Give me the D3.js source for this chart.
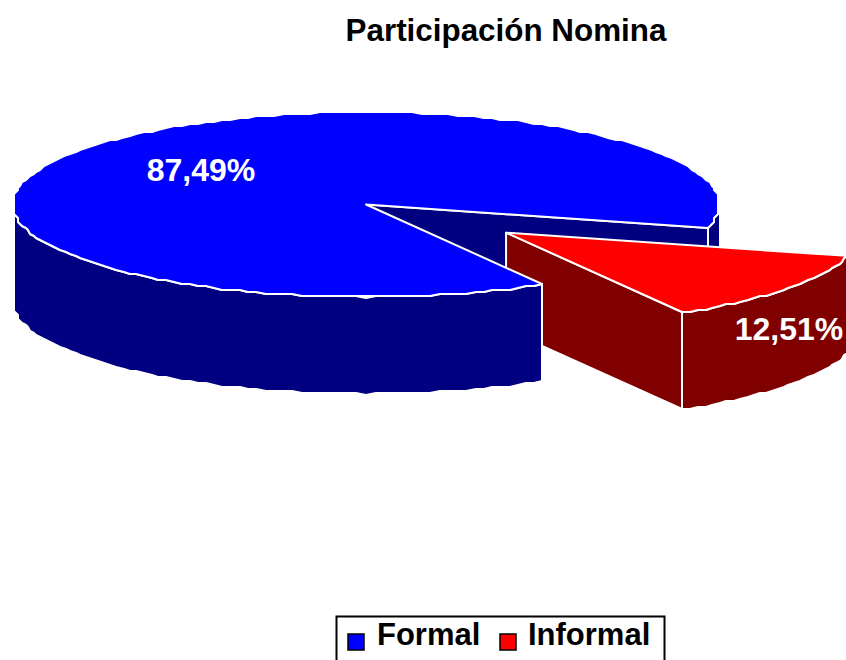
<!DOCTYPE html>
<html><head><meta charset="utf-8">
<script src="https://cdnjs.cloudflare.com/ajax/libs/d3/7.8.5/d3.min.js"></script>
<style>html,body{margin:0;padding:0;background:#fff;overflow:hidden}svg{display:block}text{font-family:"Liberation Sans",Arial,sans-serif;font-weight:700}</style>
</head><body><svg id="c" width="846" height="660"></svg>
<script>
const categories = ["Formal", "Informal"];
const values = [87.49, 12.51];
const labels = ["87,49%", "12,51%"];
const topColors = ["#0000ff", "#ff0000"];
const sideColors = ["#000080", "#800000"];
const title = "Participación Nomina";

const svg = d3.select("#c");
const X = d3.scaleLinear().domain([-1, 1]).range([13, 719]);
const Y = d3.scaleLinear().domain([-1, 1]).range([112, 297]);
const depth = 97;
const explode = [0, 0.5];
const rad = Math.PI / 180;

const pie = d3.pie().sort(null).startAngle(60 * rad).endAngle(420 * rad);
const arcs = pie(values);

const snap = v => Math.round(v / 2) * 2;
function offset(i, a) {
  const mid = (a.startAngle + a.endAngle) / 2, e = explode[i];
  return [e * Math.cos(mid), e * Math.sin(mid)];
}
function P(off, t, dz = 0) {
  return [snap(X(off[0] + Math.cos(t))), snap(Y(off[1] + Math.sin(t))) + dz];
}
function samples(a0, a1) {
  const n = Math.max(2, Math.ceil((a1 - a0) / (1.5 * rad)));
  return d3.range(n + 1).map(k => a0 + (a1 - a0) * k / n);
}
const line = d3.line().curve(d3.curveLinearClosed);
function frontRanges(a0, a1) {
  const out = [];
  for (let k = 0; k < 3; k++) {
    const s = Math.max(a0, 2 * Math.PI * k), e = Math.min(a1, 2 * Math.PI * k + Math.PI);
    if (e > s) out.push([s, e]);
  }
  return out;
}
const style = (sel, fill) => sel.attr("fill", fill).attr("stroke", "#fff").attr("stroke-width", 2).attr("stroke-linejoin", "round");

function outerWalls(g, i, a, off) {
  frontRanges(a.startAngle, a.endAngle).forEach(([s, e]) => {
    const ts = samples(s, e);
    const pts = ts.map(t => P(off, t)).concat(ts.slice().reverse().map(t => P(off, t, depth)));
    g.append("path").attr("d", line(pts)).call(style, sideColors[i]);
  });
}
function radialWall(g, i, t, off) {
  const c = [X(off[0]), Y(off[1])];
  const p = P(off, t);
  g.append("path").attr("d", line([c, p, [p[0], p[1] + depth], [c[0], c[1] + depth]])).call(style, sideColors[i]);
}
function topFace(g, i, a, off) {
  const c = [X(off[0]), Y(off[1])];
  const pts = [c].concat(samples(a.startAngle, a.endAngle).map(t => P(off, t)));
  g.append("path").attr("d", line(pts)).call(style, topColors[i]);
}

const g = svg.append("g");
const off0 = offset(0, arcs[0]), off1 = offset(1, arcs[1]);
// main slice: parts behind the exploded slice
radialWall(g, 0, arcs[0].endAngle, off0);
frontRanges(arcs[0].startAngle, arcs[0].endAngle).filter(r => r[0] > Math.PI).forEach(([s, e]) => {
  outerWalls(g, 0, {startAngle: s, endAngle: e}, off0);
});
// exploded slice
radialWall(g, 1, arcs[1].endAngle, off1);
outerWalls(g, 1, arcs[1], off1);
topFace(g, 1, arcs[1], off1);
// main slice: front parts
outerWalls(g, 0, {startAngle: arcs[0].startAngle, endAngle: Math.PI}, off0);
topFace(g, 0, arcs[0], off0);

// slice labels
const labelPos = [[201, 181], [789, 340]];
svg.selectAll("text.lbl").data(labels).join("text").attr("class", "lbl")
  .attr("x", (d, i) => labelPos[i][0]).attr("y", (d, i) => labelPos[i][1])
  .attr("text-anchor", "middle").attr("fill", "#fff").attr("font-size", 32).text(d => d);

// title
svg.append("text").attr("x", 506).attr("y", 41).attr("text-anchor", "middle")
  .attr("font-size", 31.4).attr("fill", "#000").text(title);

// legend
svg.append("rect").attr("x", 336.5).attr("y", 616.5).attr("width", 328).attr("height", 60)
  .attr("fill", "#fff").attr("stroke", "#000").attr("stroke-width", 2);
const swatchX = [348, 500], textX = [377, 528];
const lg = svg.selectAll("g.leg").data(categories).join("g").attr("class", "leg");
lg.append("rect").attr("x", (d, i) => swatchX[i]).attr("y", 634).attr("width", 16).attr("height", 16)
  .attr("fill", (d, i) => topColors[i]).attr("stroke", "#000").attr("stroke-width", 1.5);
lg.append("text").attr("x", (d, i) => textX[i]).attr("y", 645).attr("font-size", 31).attr("fill", "#000").text(d => d);
</script></body></html>
